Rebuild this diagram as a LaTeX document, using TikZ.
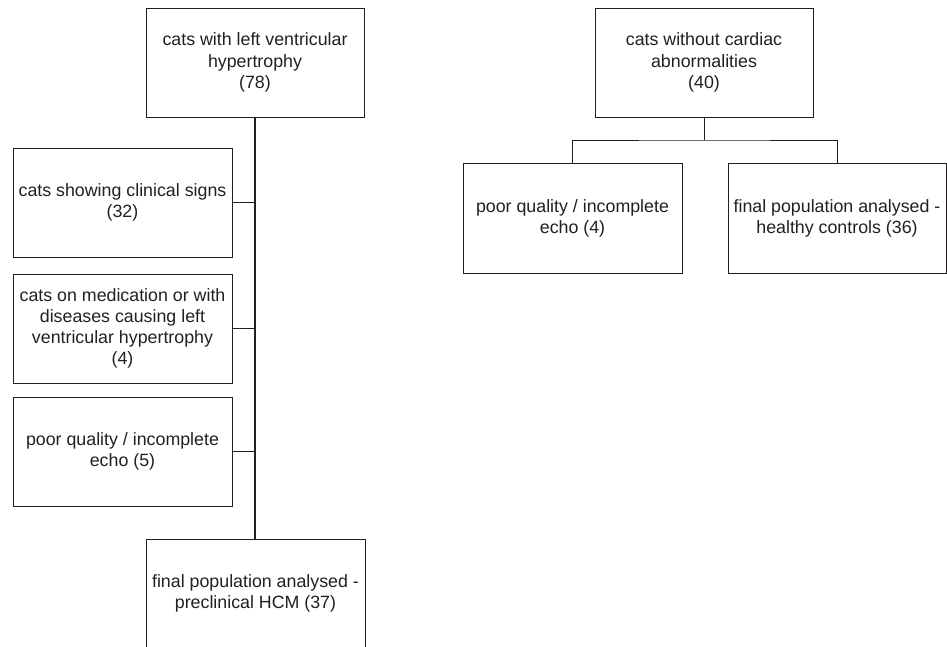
\documentclass[tikz,border=0pt]{standalone}
\usepackage{fontspec}
\setmainfont{Liberation Sans}
\definecolor{ink}{HTML}{231F20}
\begin{document}
\begin{tikzpicture}[x=1pt,y=-1pt,
  box/.style={draw=ink,line width=0.9pt,rectangle,inner sep=0pt,minimum width=218pt,minimum height=109pt,align=center,text=ink,font=\fontsize{17.8}{21.2}\selectfont},
  link/.style={draw=ink,line width=0.9pt},
  trunk/.style={draw=ink,line width=1.4pt}]
\useasboundingbox (0,0) rectangle (947,646);
% left tree
\node[box] (A) at (255,62.5) {cats with left ventricular\\hypertrophy\\(78)};
\node[box,minimum width=219pt] (B1) at (122.5,202.5) {cats showing clinical signs\\(32)};
\node[box,minimum width=219pt] (B2) at (122.5,328.5) {cats on medication or with\\diseases causing left\\ventricular hypertrophy\\(4)};
\node[box,minimum width=219pt] (B3) at (122.5,451.5) {poor quality / incomplete\\echo (5)};
\node[box,minimum width=219pt] (F) at (255.5,593.5) {final population analysed -\\preclinical HCM (37)};
\draw[trunk] (A.south) -- (A.south |- F.north);
\draw[link] (B1.east) -- (B1.east -| A.south);
\draw[link] (B2.east) -- (B2.east -| A.south);
\draw[link] (B3.east) -- (B3.east -| A.south);
% right tree
\node[box] (C) at (704,62.5) {cats without cardiac\\abnormalities\\(40)};
\node[box,minimum width=219pt,minimum height=110pt] (D1) at (572.5,218) {poor quality / incomplete\\echo (4)};
\node[box,minimum height=110pt] (D2) at (837,218) {final population analysed -\\healthy controls (36)};
\coordinate (j) at (704,140);
\draw[link] (C.south) -- (j);
\draw[link] (D1.north) |- (j) -| (D2.north);
\end{tikzpicture}
\end{document}
